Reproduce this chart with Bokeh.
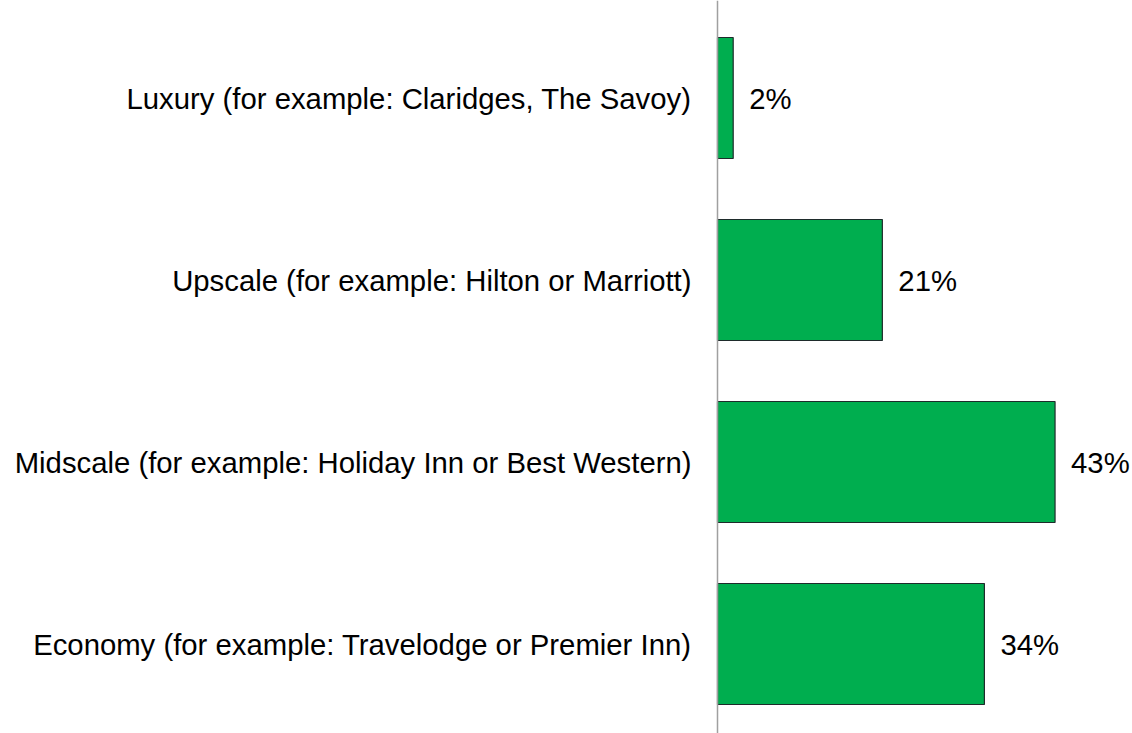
from bokeh.plotting import figure
from bokeh.models import Range1d, Span, ColumnDataSource
from bokeh.core.properties import value
from bokeh.embed import file_html
from bokeh.resources import INLINE

categories = [
    "Economy (for example: Travelodge or Premier Inn)",
    "Midscale (for example: Holiday Inn or Best Western)",
    "Upscale (for example: Hilton or Marriott)",
    "Luxury (for example: Claridges, The Savoy)",
]
values = [34, 43, 21, 2]
value_labels = ["34%", "43%", "21%", "2%"]

W, H = 1132, 733
px_per_unit = 7.85
zero_px = 717
step = 182.0
first_center = 643.5  # from top of figure

ypos = list(range(len(categories)))
src = ColumnDataSource(dict(y=ypos, v=values, cat=categories, lab=value_labels,
                            zero=[0] * len(values)))

p = figure(width=W, height=H, output_backend="svg", toolbar_location=None,
           x_range=Range1d(-zero_px / px_per_unit, (W - zero_px) / px_per_unit),
           y_range=Range1d((first_center - H) / step, first_center / step),
           min_border=0, min_border_left=0, min_border_right=0,
           min_border_top=0, min_border_bottom=0)
p.axis.visible = False
p.grid.visible = False
p.outline_line_color = None
p.background_fill_color = "white"

p.hbar(y="y", left="zero", right="v", height=121 / step, source=src,
       fill_color="#00AE4F", line_color="#1E2B2B", line_width=1.2)

p.add_layout(Span(location=0, dimension="height", line_color="#A0A0A0", line_width=1.5))

p.text(x="zero", y="y", text="cat", source=src, x_offset=-26, text_align="right",
       text_baseline="middle", text_font=value("Liberation Sans"),
       text_font_size="29.3px", text_color="black")
p.text(x="v", y="y", text="lab", source=src, x_offset=16, text_align="left",
       text_baseline="middle", text_font=value("Liberation Sans"),
       text_font_size="29.3px", text_color="black")

open("out.html", "w").write(file_html(p, INLINE))
